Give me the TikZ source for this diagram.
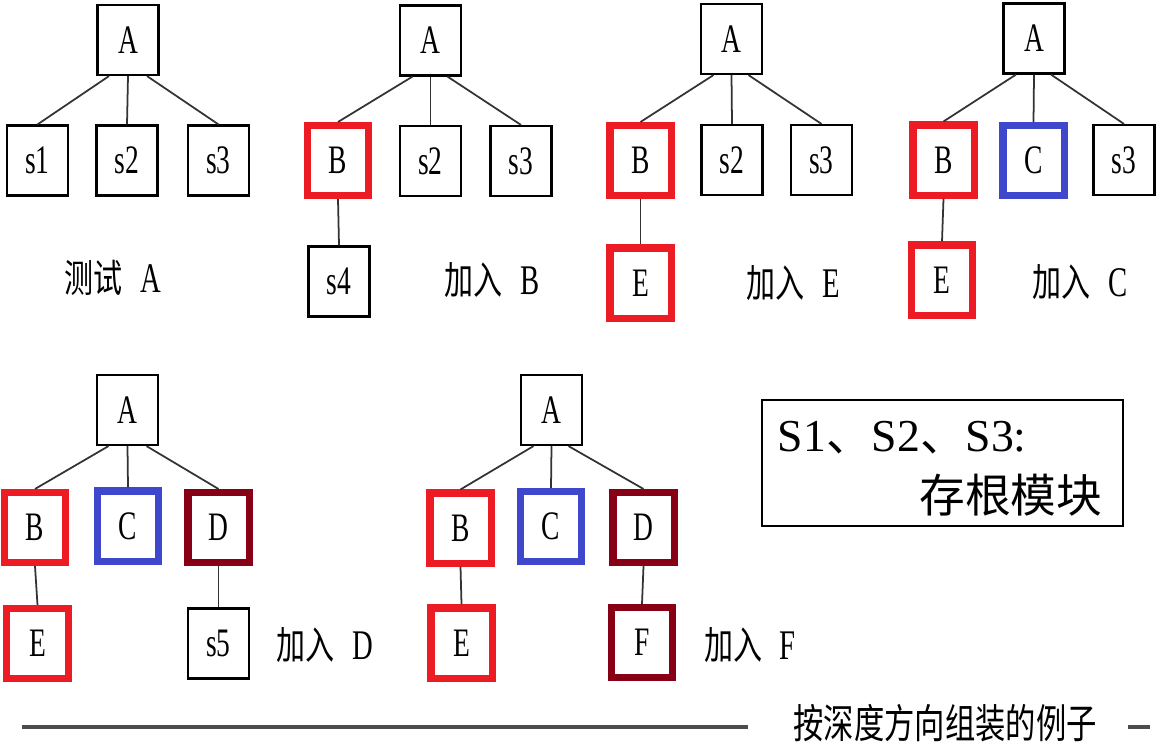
\documentclass[tikz,border=0pt]{standalone}
\usepackage{fontspec}
\setmainfont{Liberation Serif}
\newfontfamily\cjk{Noto Sans CJK SC}
\newfontfamily\narrowrm{Liberation Serif}[FakeStretch=0.68]
\newfontfamily\narrowcjk{Noto Sans CJK SC}[FakeStretch=0.75]
\usetikzlibrary{calc}
\definecolor{stubred}{RGB}{237,28,36}
\definecolor{stubblue}{RGB}{63,72,204}
\definecolor{stubdark}{RGB}{136,0,21}
\newcommand{\jiaru}[1]{{\narrowcjk 加入}\hspace{5pt}{\narrowrm\fontsize{12}{13}\selectfont #1}}

\begin{document}
\begin{tikzpicture}[x=0.01cm, y=-0.01cm,
  mod/.style={draw, line width=0.6pt, minimum width=0.61cm, minimum height=0.7cm,
    inner sep=0pt, font=\narrowrm\fontsize{11.5}{12}\selectfont},
  modred/.style={mod, draw=stubred, line width=2pt},
  modblue/.style={mod, draw=stubblue, line width=2pt},
  moddark/.style={mod, draw=stubdark, line width=2pt},
  link/.style={black!80, line width=0.5pt},
  lbl/.style={inner sep=0pt, font=\fontsize{11}{13}\selectfont},
  rule/.style={black!70, line width=0.9pt}]
  \useasboundingbox (0,0) rectangle (1158,754);

  % Step 1: test A with three stubs
  \node[mod] (p1A) at (128,40) {A};
  \node[mod] (p1s1) at (37.5,160.5) {s1};
  \node[mod] (p1s2) at (127,160.5) {s2};
  \node[mod] (p1s3) at (218.5,160.5) {s3};
  \draw[link] ($(p1A.south)+(-19,0)$) -- (p1s1.north);
  \draw[link] (p1A.south) -- (p1s2.north);
  \draw[link] ($(p1A.south)+(19,0)$) -- (p1s3.north);
  \node[lbl] (p1lbl) at (113,278) {{\narrowcjk 测试}\hspace{5pt}{\narrowrm\fontsize{12}{13}\selectfont A}};

  % Step 2: add B
  \node[mod] (p2A) at (430.5,40.5) {A};
  \node[modred] (p2B) at (338,160.5) {B};
  \node[mod] (p2s2) at (430.5,161) {s2};
  \node[mod] (p2s3) at (521,161) {s3};
  \node[mod] (p2s4) at (339,281.5) {s4};
  \draw[link] ($(p2A.south)+(-18,0)$) -- (p2B.north);
  \draw[link] (p2A.south) -- (p2s2.north);
  \draw[link] ($(p2A.south)+(17,0)$) -- (p2s3.north);
  \draw[link] (p2B.south) -- (p2s4.north);
  \node[lbl] (p2lbl) at (492,280) {\jiaru{B}};

  % Step 3: add E
  \node[mod] (p3A) at (731.5,39) {A};
  \node[modred] (p3B) at (640.5,160.5) {B};
  \node[mod] (p3s2) at (732,160) {s2};
  \node[mod] (p3s3) at (821.5,160) {s3};
  \node[modred] (p3E) at (640.5,283) {E};
  \draw[link] ($(p3A.south)+(-18,0)$) -- (p3B.north);
  \draw[link] (p3A.south) -- (p3s2.north);
  \draw[link] ($(p3A.south)+(17,0)$) -- (p3s3.north);
  \draw[link] (p3B.south) -- (p3E.north);
  \node[lbl] (p3lbl) at (793,283) {\jiaru{E}};

  % Step 4: add C
  \node[mod] (p4A) at (1034,38.5) {A};
  \node[modred] (p4B) at (943.5,160) {B};
  \node[modblue] (p4C) at (1033.5,160.5) {C};
  \node[mod] (p4s3) at (1124,160) {s3};
  \node[modred] (p4E) at (942,280) {E};
  \draw[link] ($(p4A.south)+(-18,0)$) -- (p4B.north);
  \draw[link] (p4A.south) -- (p4C.north);
  \draw[link] ($(p4A.south)+(17,0)$) -- (p4s3.north);
  \draw[link] (p4B.south) -- (p4E.north);
  \node[lbl] (p4lbl) at (1080,282) {\jiaru{C}};

  % Step 5: add D
  \node[mod] (p5A) at (127.5,410) {A};
  \node[modred] (p5B) at (35,527.5) {B};
  \node[modblue] (p5C) at (128,526) {C};
  \node[moddark] (p5D) at (218.5,527.5) {D};
  \node[modred] (p5E) at (37.5,643.5) {E};
  \node[mod] (p5s5) at (218.5,643.5) {s5};
  \draw[link] ($(p5A.south)+(-19,0)$) -- (p5B.north);
  \draw[link] (p5A.south) -- (p5C.north);
  \draw[link] ($(p5A.south)+(19,0)$) -- (p5D.north);
  \draw[link] (p5B.south) -- (p5E.north);
  \draw[link] (p5D.south) -- (p5s5.north);
  \node[lbl] (p5lbl) at (325,645) {\jiaru{D}};

  % Step 6: add F
  \node[mod] (p6A) at (551.5,410) {A};
  \node[modred] (p6B) at (460.5,528) {B};
  \node[modblue] (p6C) at (551,526.5) {C};
  \node[moddark] (p6D) at (643.5,527.5) {D};
  \node[modred] (p6E) at (461.5,643) {E};
  \node[moddark] (p6F) at (642,642.5) {F};
  \draw[link] ($(p6A.south)+(-18,0)$) -- (p6B.north);
  \draw[link] (p6A.south) -- (p6C.north);
  \draw[link] ($(p6A.south)+(17,0)$) -- (p6D.north);
  \draw[link] (p6B.south) -- (p6E.north);
  \draw[link] (p6D.south) -- (p6F.north);
  \node[lbl] (p6lbl) at (750,645) {\jiaru{F}};

  % Legend
  \node[draw, line width=0.6pt, minimum width=3.61cm, minimum height=1.26cm,
    inner sep=0pt] (legend) at (942.5,463) {};
  \node[inner sep=0pt, anchor=west, font=\fontsize{13}{15}\selectfont]
    (legtop) at (777,438) {S1{\cjk 、}S2{\cjk 、}S3:};
  \node[inner sep=0pt, anchor=east, font=\fontsize{13}{15}\selectfont]
    (legbot) at (1103,495) {\cjk 存根模块};

  % Caption
  \node[inner sep=0pt, font=\fontsize{11.5}{13}\selectfont] (cap) at (945,723)
    {\narrowcjk 按深度方向组装的例子};
  \draw[rule] (22,727) -- (748,727);
  \draw[rule] (1128,727) -- (1150,727);
\end{tikzpicture}
\end{document}
